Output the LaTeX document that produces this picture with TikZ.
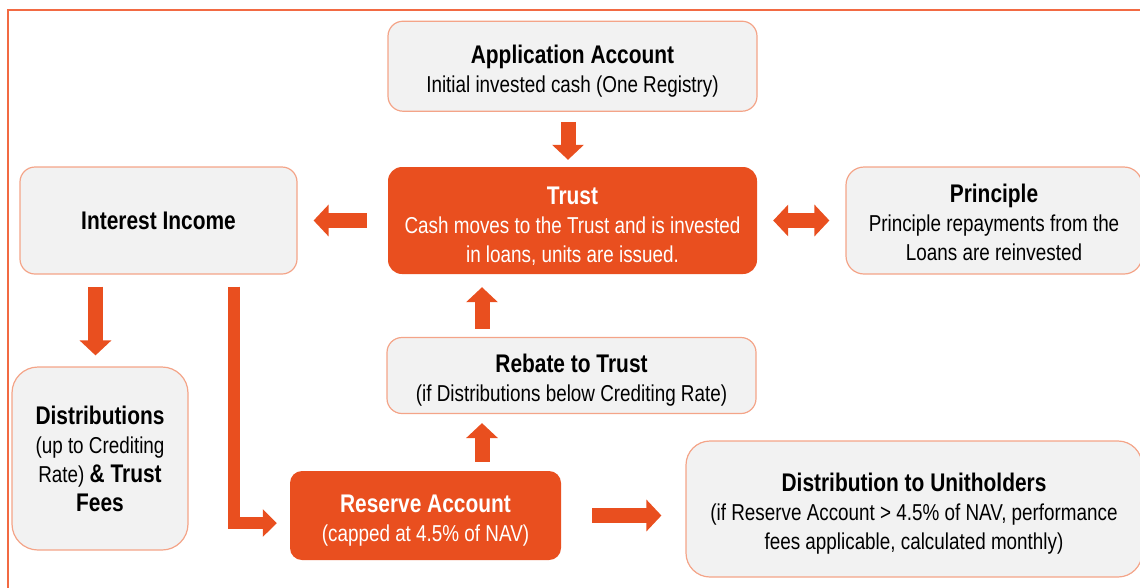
\documentclass[tikz,border=0pt]{standalone}
\usepackage{fontspec}
\setmainfont[FakeStretch=0.82]{Liberation Sans}
\usetikzlibrary{arrows.meta, positioning, calc}

\definecolor{flow}{HTML}{E94F1F}
\definecolor{edge}{HTML}{F4A488}
\definecolor{panel}{HTML}{F2F2F2}
\definecolor{frame}{HTML}{F26A43}

\newcommand{\boxtitle}[1]{{\fontsize{25.5}{29}\selectfont\bfseries #1}}
% title with a bit more room above it
\newcommand{\headtitle}[2][28pt]{\rule{0pt}{#1}\boxtitle{#2}}

\begin{document}
\begin{tikzpicture}[
      x=1pt, y=-1pt,
      node distance=55pt and 16pt,
      every node/.style={font=\fontsize{23}{29}\selectfont},
      box/.style={draw=edge, line width=1.2pt, fill=panel, rounded corners=15pt, align=center, inner sep=0pt},
      hot/.style={fill=flow, text=white, rounded corners=14pt, align=center, inner sep=0pt},
      fat/.style={flow, line width=15pt, -{Triangle[length=15pt, width=31pt]}},
      thin/.style={flow, line width=12.5pt, -{Triangle[length=14pt, width=27pt]}}
    ]
    \useasboundingbox (0,0) rectangle (1140,587);
    \clip (0,0) rectangle (1140,587);

    % Outer frame
    \draw[frame, line width=2pt] (8,10) rectangle (1160,610);

    % Nodes
    \node[hot, minimum width=369pt, minimum height=107pt] (trust) at (572.5,220.5)
      {\headtitle{Trust}\\Cash moves to the Trust and is invested\\in loans, units are issued.};
    \node[box, minimum width=369pt, minimum height=90pt, above=55pt of trust] (app)
      {\headtitle{Application Account}\\Initial invested cash (One Registry)};
    \node[box, minimum width=277pt, minimum height=107pt] (interest) at (158.5,220.5)
      {\boxtitle{Interest Income}};
    \node[box, rounded corners=18pt, minimum width=296pt, minimum height=107pt] (principle) at (994,220.5)
      {\headtitle[23pt]{Principle}\\Principle repayments from the\\Loans are reinvested};
    \node[box, minimum width=369pt, minimum height=76pt] (rebate) at (571.5,375.5)
      {\headtitle{Rebate to Trust}\\(if Distributions below Crediting Rate)};
    \node[box, rounded corners=26pt, minimum width=176pt, minimum height=183pt] (dist) at (100,458.5)
      {\boxtitle{Distributions}\\(up to Crediting\\Rate) \boxtitle{\& Trust}\\\boxtitle{Fees}};
    \node[hot, rounded corners=12pt, minimum width=271pt, minimum height=89pt] (reserve) at (425.5,515.5)
      {\headtitle{Reserve Account}\\(capped at 4.5\% of NAV)};
    \node[box, rounded corners=24pt, minimum width=456pt, minimum height=136pt] (unith) at (914,509)
      {\headtitle{Distribution to Unitholders}\\(if Reserve Account > 4.5\% of NAV, performance\\fees applicable, calculated monthly)};

    % Arrows
    \draw[fat, shorten <=10pt, shorten >=7pt] ([xshift=-4.5pt]app.south) -- ([xshift=-4.5pt]trust.north);
    \draw[fat, shorten <=21pt, shorten >=16pt] (trust.west) -- (interest.east);
    \draw[fat, {Triangle[length=15pt, width=31pt]}-{Triangle[length=15pt, width=31pt]}, shorten <=16pt, shorten >=16pt]
      (trust.east) -- (principle.west);
    \draw[fat, shorten <=8pt, shorten >=13pt] ([xshift=-89.5pt]rebate.north) -- ([xshift=-89.5pt]rebate.north |- trust.south);
    \draw[fat, shorten <=9pt, shorten >=9pt] ([xshift=-89.5pt]rebate.south |- reserve.north) -- ([xshift=-89.5pt]rebate.south);
    \draw[fat, shorten <=12pt, shorten >=11pt] ([xshift=-4.5pt]dist.north |- interest.south) -- ([xshift=-4.5pt]dist.north);
    \draw[thin, shorten <=12pt, shorten >=13pt] ([xshift=75.5pt]interest.south) |- ([yshift=-7.5pt]reserve.west);
    \draw[fat, shorten <=31pt, shorten >=24pt] (reserve.east) -- (unith.west |- reserve.east);
\end{tikzpicture}
\end{document}
